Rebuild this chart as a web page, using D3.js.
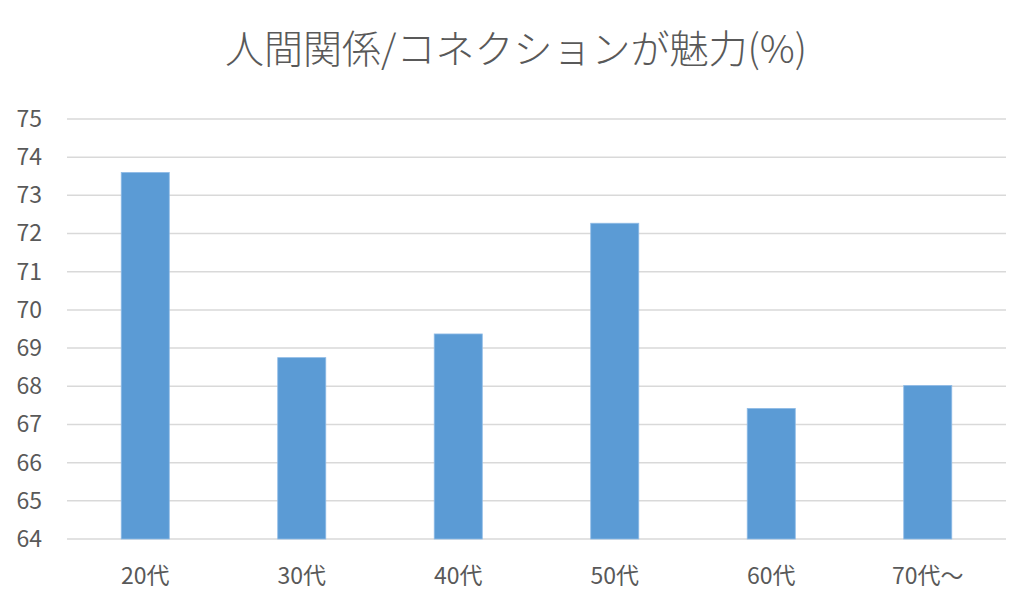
<!DOCTYPE html>
<html lang="ja">
  <head>
    <meta charset="UTF-8" />
    <title>人間関係/コネクションが魅力(%)</title>
    <script src="https://d3js.org/d3.v7.min.js"></script>
    <style>
      body {
        margin: 0;
        background: #fff;
        font-family: "Noto Sans CJK JP", "Noto Sans", sans-serif;
      }
    </style>
  </head>
  <body>
    <div id="chart"></div>
    <script>
      const categories = ["20代", "30代", "40代", "50代", "60代", "70代～"];
      const values = [73.6, 68.75, 69.37, 72.27, 67.42, 68.02];
      const yTicks = [64, 65, 66, 67, 68, 69, 70, 71, 72, 73, 74, 75];
      const title = "人間関係/コネクションが魅力(%)";

      const width = 1029;
      const height = 612;
      const margin = { top: 119, right: 23, bottom: 73, left: 67 };

      const svg = d3
        .select("#chart")
        .append("svg")
        .attr("width", width)
        .attr("height", height);

      const x = d3
        .scaleBand()
        .domain(categories)
        .range([margin.left, width - margin.right])
        .paddingInner(0.693)
        .paddingOuter(0.3465);

      const y = d3
        .scaleLinear()
        .domain([64, 75])
        .range([height - margin.bottom, margin.top]);

      // gridlines
      svg
        .append("g")
        .selectAll("line")
        .data(yTicks)
        .join("line")
        .attr("x1", margin.left)
        .attr("x2", width - margin.right)
        .attr("y1", (d) => y(d))
        .attr("y2", (d) => y(d))
        .attr("stroke", "#d9d9d9")
        .attr("stroke-width", 1.5);

      // bars
      svg
        .append("g")
        .selectAll("rect")
        .data(values)
        .join("rect")
        .attr("x", (d, i) => x(categories[i]))
        .attr("width", x.bandwidth())
        .attr("y", (d) => y(d))
        .attr("height", (d) => y(64) - y(d))
        .attr("fill", "#5b9bd5")
        .attr("stroke", "#8fbbe6")
        .attr("stroke-width", 0.8);

      // y axis labels
      const yAxis = d3.axisLeft(y).tickValues(yTicks).tickSize(0).tickPadding(0);
      svg
        .append("g")
        .attr("transform", `translate(42,0)`)
        .call(yAxis)
        .call((g) => g.select(".domain").remove())
        .selectAll("text")
        .attr("fill", "#595959")
        .style("font-size", "23px")
        .style("font-family", "'Noto Sans CJK JP', sans-serif");

      // x axis labels
      const xAxis = d3.axisBottom(x).tickSize(0).tickPadding(0);
      svg
        .append("g")
        .attr("transform", `translate(0,${height - margin.bottom + 29})`)
        .call(xAxis)
        .call((g) => g.select(".domain").remove())
        .selectAll("text")
        .attr("fill", "#595959")
        .style("font-size", "23px")
        .style("font-family", "'Noto Sans CJK JP', sans-serif");

      // title
      svg
        .append("text")
        .attr("x", 516)
        .attr("y", 63)
        .attr("text-anchor", "middle")
        .attr("fill", "#595959")
        .style("font-size", "39px")
        .style("font-weight", 300)
        .text(title);
    </script>
  </body>
</html>
